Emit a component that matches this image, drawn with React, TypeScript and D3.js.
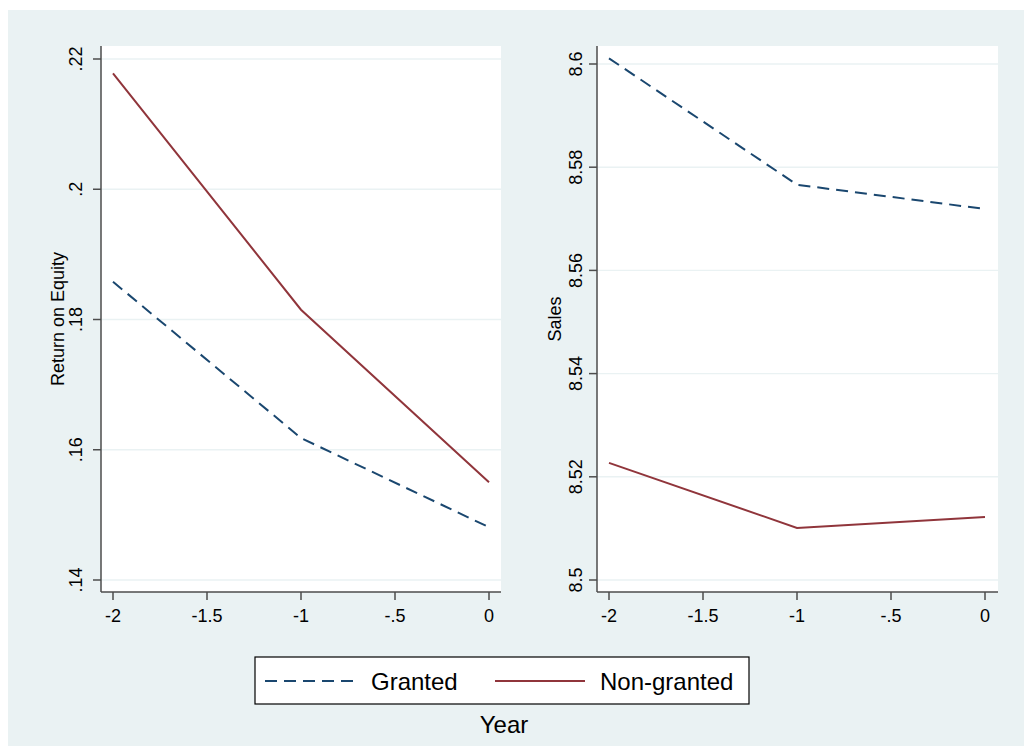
import React from 'react';
import * as d3 from 'd3';

// data
const years = [-2, -1, 0];
const xTicks = [-2, -1.5, -1, -0.5, 0];

const roeGranted = [0.1858, 0.1618, 0.1481];
const roeNonGranted = [0.2178, 0.1815, 0.155];
const roeTicks = [0.14, 0.16, 0.18, 0.2, 0.22];

const salesGranted = [8.6011, 8.5766, 8.5719];
const salesNonGranted = [8.5227, 8.5101, 8.5122];
const salesTicks = [8.5, 8.52, 8.54, 8.56, 8.58, 8.6];

const seriesNames = ['Granted', 'Non-granted'];

const BG = '#eaf2f3';
const BLUE = '#1a476f';
const RED = '#90353b';
const AXIS = '#4d4d4d';
const FONT = '"Liberation Sans", Arial, Helvetica, sans-serif';

// strip leading zero like Stata does (.22, -.5)
const fmt = (v: number) => {
  let s = String(+v.toFixed(4));
  s = s.replace(/^0\./, '.').replace(/^-0\./, '-.');
  return s;
};

interface PanelProps {
  left: number;
  right: number;
  top: number;
  bottom: number;
  xRange: [number, number];
  yDomain: [number, number];
  yRange: [number, number];
  yTicks: number[];
  granted: number[];
  nonGranted: number[];
  title: string;
  tickLabelX: number;
  titleX: number;
}

function Panel(p: PanelProps) {
  const x = d3.scaleLinear().domain([-2, 0]).range(p.xRange);
  const y = d3.scaleLinear().domain(p.yDomain).range(p.yRange);
  const line = d3
    .line<number>()
    .x((_, i) => x(years[i]))
    .y((d) => y(d));
  const midY = (p.top + p.bottom) / 2;

  return (
    <g>
      <rect x={p.left} y={p.top} width={p.right - p.left} height={p.bottom - p.top} fill="#ffffff" />
      {p.yTicks.map((t) => (
        <line key={'g' + t} x1={p.left} x2={p.right} y1={y(t)} y2={y(t)} stroke={BG} strokeWidth={1.4} />
      ))}
      <path d={line(p.granted) || ''} fill="none" stroke={BLUE} strokeWidth={2} strokeDasharray="12,7" />
      <path d={line(p.nonGranted) || ''} fill="none" stroke={RED} strokeWidth={2} />
      {/* axes */}
      <line x1={p.left} x2={p.left} y1={p.top} y2={p.bottom} stroke={AXIS} strokeWidth={1.5} />
      <line x1={p.left} x2={p.right} y1={p.bottom} y2={p.bottom} stroke={AXIS} strokeWidth={1.5} />
      {p.yTicks.map((t) => (
        <g key={'y' + t}>
          <line x1={p.left - 8} x2={p.left} y1={y(t)} y2={y(t)} stroke={AXIS} strokeWidth={1.5} />
          <text
            transform={`translate(${p.tickLabelX},${y(t)}) rotate(-90)`}
            textAnchor="middle"
            fontSize={18}
            fontFamily={FONT}
            fill="#000"
          >
            {fmt(t)}
          </text>
        </g>
      ))}
      {xTicks.map((t) => (
        <g key={'x' + t}>
          <line x1={x(t)} x2={x(t)} y1={p.bottom} y2={p.bottom + 8} stroke={AXIS} strokeWidth={1.5} />
          <text x={x(t)} y={622} textAnchor="middle" fontSize={18} fontFamily={FONT} fill="#000">
            {fmt(t)}
          </text>
        </g>
      ))}
      <text
        transform={`translate(${p.titleX},${midY}) rotate(-90)`}
        textAnchor="middle"
        fontSize={18}
        fontFamily={FONT}
        fill="#000"
      >
        {p.title}
      </text>
    </g>
  );
}

export default function App() {
  return (
    <svg
      width={1026}
      height={748}
      style={{ position: 'absolute', left: 0, top: 0 }}
    >
      <rect x={0} y={0} width={1026} height={748} fill="#ffffff" />
      <rect x={8} y={10} width={1016} height={736} fill={BG} />
      <Panel
        left={101}
        right={501}
        top={46}
        bottom={592}
        xRange={[113, 489]}
        yDomain={[0.14, 0.22]}
        yRange={[580, 59]}
        yTicks={roeTicks}
        granted={roeGranted}
        nonGranted={roeNonGranted}
        title="Return on Equity"
        tickLabelX={82}
        titleX={64}
      />
      <Panel
        left={597}
        right={998}
        top={46}
        bottom={592}
        xRange={[609, 985]}
        yDomain={[8.5, 8.6]}
        yRange={[580, 64]}
        yTicks={salesTicks}
        granted={salesGranted}
        nonGranted={salesNonGranted}
        title="Sales"
        tickLabelX={582}
        titleX={561}
      />
      {/* legend */}
      <rect x={255} y={657} width={494} height={47} fill="#ffffff" stroke="#000" strokeWidth={1.2} />
      <line x1={265} x2={355} y1={681} y2={681} stroke={BLUE} strokeWidth={2} strokeDasharray="12,7" />
      <text x={371} y={690} fontSize={24} fontFamily={FONT} fill="#000">
        {seriesNames[0]}
      </text>
      <line x1={495} x2={585} y1={681} y2={681} stroke={RED} strokeWidth={2} />
      <text x={600} y={690} fontSize={24} fontFamily={FONT} fill="#000">
        {seriesNames[1]}
      </text>
      <text x={504} y={733} textAnchor="middle" fontSize={24} fontFamily={FONT} fill="#000">
        Year
      </text>
    </svg>
  );
}
